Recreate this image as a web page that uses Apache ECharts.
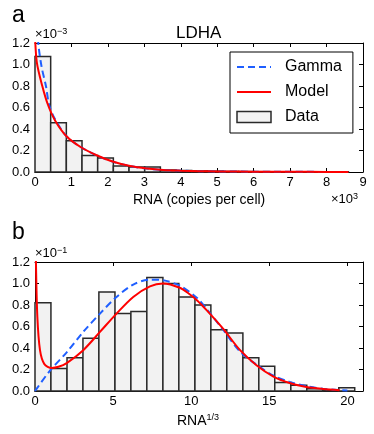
<!DOCTYPE html>
<html>
<head>
<meta charset="utf-8">
<script src="https://cdn.jsdelivr.net/npm/echarts@6/dist/echarts.min.js"></script>
<style>
html,body{margin:0;padding:0;background:#fff;}
#c{width:374px;height:434px;}
</style>
</head>
<body>
<div id="c"></div>
<script>
// ---- Panel a: LDHA (x in 10^3 copies, y in 10^-3) ----
var aBinEdges = [0,0.43,0.86,1.29,1.72,2.15,2.58,3.01,3.44,3.87,4.30,4.73,5.16,5.59,6.02,6.45,6.88,7.31,7.74,8.17,8.60];
var aBinHeights = [1.075,0.457,0.29,0.153,0.13,0.055,0.047,0.047,0.018,0.014,0.010,0.008,0.005,0.004,0.003,0.002,0.001,0.001,0.001,0.002];
var aGammaX = [0.06,0.09,0.18,0.30,0.39,0.55,0.87,1.24,1.69,2.15,2.61,3.07,3.52,4.0,4.5,5.0,6.0,7.0,8.0,8.6];
var aGammaY = [1.45,1.2,0.98,0.80,0.62,0.49,0.33,0.235,0.155,0.094,0.055,0.032,0.018,0.012,0.008,0.005,0.003,0.002,0.001,0.001];
var aModelX = [0.0,0.05,0.20,0.35,0.55,0.87,1.24,1.69,2.15,2.61,3.07,3.52,4.0,4.5,5.0,6.0,7.0,8.0,8.6];
var aModelY = [1.28,1.02,0.80,0.63,0.48,0.33,0.235,0.156,0.095,0.055,0.032,0.018,0.012,0.008,0.005,0.003,0.002,0.001,0.001];
var aXTicks = [0,1,2,3,4,5,6,7,8,9];
var aYTicks = [0.0,0.2,0.4,0.6,0.8,1.0,1.2];

// ---- Panel b: RNA^(1/3) (y in 10^-1) ----
var bBinEdges = [0,1.02,2.05,3.07,4.09,5.12,6.14,7.16,8.19,9.21,10.24,11.26,12.28,13.31,14.33,15.35,16.38,17.40,18.42,19.45,20.47];
var bBinHeights = [0.82,0.21,0.31,0.49,0.92,0.72,0.74,1.055,1.00,0.875,0.80,0.57,0.54,0.31,0.23,0.078,0.053,0.02,0.01,0.03];
var bGammaX = [0,0.1,0.96,2.03,3.09,4.16,5.22,6.29,7.36,8.2,9.27,10.34,11.0,12.04,13.1,14.18,15.24,16.3,17.38,18.44,19.5,20.0];
var bGammaY = [0,0.02,0.19,0.36,0.55,0.72,0.875,0.99,1.036,1.03,0.98,0.87,0.76,0.57,0.37,0.245,0.145,0.085,0.045,0.02,0.008,0.004];
var bModelX = [0.02,0.06,0.15,0.32,0.6,1.07,1.5,2.03,3.09,4.16,5.22,6.29,7.36,8.2,9.27,9.9,10.4,11.0,12.04,13.1,14.18,15.24,16.3,17.38,18.44,19.5];
var bModelY = [1.6,1.2,0.69,0.38,0.25,0.214,0.225,0.26,0.38,0.55,0.72,0.875,0.974,1.0,0.96,0.9,0.84,0.75,0.58,0.385,0.24,0.137,0.075,0.037,0.019,0.008];
var bXTicks = [0,5,10,15,20];
var bYTicks = [0.0,0.2,0.4,0.6,0.8,1.0,1.2];

var FONT = '"Liberation Sans", Arial, Helvetica, sans-serif';
var BLUE = '#1f5fff', RED = '#ff0000', BARFILL = '#f2f2f2', BAREDGE = '#2a2a2a';

function pairs(xs, ys){ return xs.map(function(x,i){ return [x, ys[i]]; }); }
function bins(edges, h){ return h.map(function(v,i){ return [edges[i], edges[i+1], v]; }); }

function renderBar(params, api){
  var s = api.coord([api.value(0), 0]);
  var e = api.coord([api.value(1), api.value(2)]);
  return {type:'rect', shape:{x:s[0], y:e[1], width:e[0]-s[0], height:s[1]-e[1]},
          style:{fill:BARFILL, stroke:BAREDGE, lineWidth:1.5}};
}

function xAx(grid, ticks, maxV, pos, showLabels){
  return {type:'value', gridIndex:grid, position:pos, min:ticks[0], max:maxV, interval:ticks[1]-ticks[0],
    axisLine:{show:true, onZero:false, lineStyle:{color:'#000', width:1}},
    axisTick:{show:true, inside:true, length:4, lineStyle:{color:'#000'}},
    axisLabel:{show:showLabels, color:'#000', fontSize:13, fontFamily:FONT, margin:4,
      showMaxLabel: maxV === ticks[ticks.length-1]},
    splitLine:{show:false}};
}
function yAx(grid, ticks, pos, showLabels){
  return {type:'value', gridIndex:grid, position:pos, min:ticks[0], max:ticks[ticks.length-1], interval:ticks[1]-ticks[0],
    axisLine:{show:true, onZero:false, lineStyle:{color:'#000', width:1}},
    axisTick:{show:true, inside:true, length:4, lineStyle:{color:'#000'}},
    axisLabel:{show:showLabels, color:'#000', fontSize:13, fontFamily:FONT, margin:5,
      formatter:function(v){ return v.toFixed(1); }},
    splitLine:{show:false}};
}

var supRich = function(fs){ return {
  a:{fontSize:fs, fontFamily:FONT, verticalAlign:'bottom', lineHeight:fs+1, color:'#000'},
  s:{fontSize:9, fontFamily:FONT, verticalAlign:'top', lineHeight:fs+1, padding:[0,0,6,0], color:'#000'}}; };
var hiddenSym = {color:'rgba(0,0,0,0)', borderColor:'rgba(0,0,0,0)', borderWidth:0, opacity:0};

var option = {
  animation:false,
  backgroundColor:'#fff',
  textStyle:{fontFamily:FONT},
  grid:[
    {left:35, top:43, width:328, height:129},
    {left:35, top:262, width:328, height:129}
  ],
  xAxis:[xAx(0,aXTicks,9,'bottom',true), xAx(0,aXTicks,9,'top',false), xAx(1,bXTicks,21,'bottom',true), xAx(1,bXTicks,21,'top',false)],
  yAxis:[yAx(0,aYTicks,'left',true), yAx(0,aYTicks,'right',false), yAx(1,bYTicks,'left',true), yAx(1,bYTicks,'right',false)],
  legend:{
    orient:'vertical', left:230, top:52,
    backgroundColor:'#fff', borderColor:'#000', borderWidth:1, borderRadius:0,
    padding:[7,11,8,6], itemGap:9, itemWidth:34, itemHeight:11,
    textStyle:{fontSize:16, fontFamily:FONT, color:'#000', padding:[0,0,0,9]},
    data:[
      {name:'Gamma', itemStyle:hiddenSym},
      {name:'Model', itemStyle:hiddenSym},
      {name:'Data', icon:'rect', itemStyle:{color:BARFILL, borderColor:BAREDGE, borderWidth:1.5}}
    ]
  },
  graphic:[
    {type:'text', left:12, top:4, style:{text:'a', font:'23px '+FONT, fill:'#000'}},
    {type:'text', left:12, top:221, style:{text:'b', font:'23px '+FONT, fill:'#000'}},
    {type:'text', left:176, top:25, style:{text:'LDHA', font:'17px '+FONT, fill:'#000'}},
    {type:'text', left:35, top:27, style:{text:'{a|×10}{s|−3}', rich:supRich(13)}},
    {type:'text', left:35, top:246, style:{text:'{a|×10}{s|−1}', rich:supRich(13)}},
    {type:'text', left:133, top:193, style:{text:'RNA (copies per cell)', font:'14px '+FONT, fill:'#000'}},
    {type:'text', left:331, top:192, style:{text:'{a|×10}{s|3}', rich:supRich(13)}},
    {type:'text', left:177, top:413, style:{text:'{a|RNA}{s|1/3}', rich:supRich(14)}}
  ],
  series:[
    {name:'Data', type:'custom', xAxisIndex:0, yAxisIndex:0, renderItem:renderBar,
     encode:{x:[0,1], y:2}, data:bins(aBinEdges, aBinHeights), z:1, itemStyle:{color:BARFILL}},
    {name:'Gamma', type:'line', xAxisIndex:0, yAxisIndex:0, data:pairs(aGammaX,aGammaY), symbol:'none', smooth:0.3,
     lineStyle:{color:BLUE, width:2, type:[7,4]}, itemStyle:{color:BLUE}, z:3},
    {name:'Model', type:'line', xAxisIndex:0, yAxisIndex:0, data:pairs(aModelX,aModelY), symbol:'none', smooth:0.3,
     lineStyle:{color:RED, width:2}, itemStyle:{color:RED}, z:4},
    {name:'Data', type:'custom', xAxisIndex:2, yAxisIndex:2, renderItem:renderBar,
     encode:{x:[0,1], y:2}, data:bins(bBinEdges, bBinHeights), z:1, itemStyle:{color:BARFILL}},
    {name:'Gamma', type:'line', xAxisIndex:2, yAxisIndex:2, data:pairs(bGammaX,bGammaY), symbol:'none', smooth:0.3,
     lineStyle:{color:BLUE, width:2, type:[7,4]}, itemStyle:{color:BLUE}, z:3},
    {name:'Model', type:'line', xAxisIndex:2, yAxisIndex:2, data:pairs(bModelX,bModelY), symbol:'none', smooth:0.3,
     lineStyle:{color:RED, width:2}, itemStyle:{color:RED}, z:4}
  ]
};
var chart = echarts.init(document.getElementById('c'), null, {renderer:'canvas'});
chart.setOption(option);
</script>
</body>
</html>
